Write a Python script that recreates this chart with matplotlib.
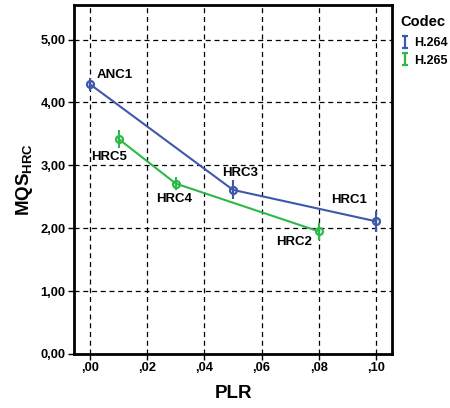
import matplotlib
matplotlib.use("Agg")
import matplotlib.pyplot as plt
from matplotlib.path import Path
from matplotlib.lines import Line2D
from matplotlib.ticker import FuncFormatter

plt.rcParams['font.family'] = ['Liberation Sans', 'DejaVu Sans']
plt.rcParams['font.weight'] = 'bold'
plt.rcParams['mathtext.fontset'] = 'custom'
plt.rcParams['mathtext.rm'] = 'Liberation Sans:bold'
plt.rcParams['mathtext.bf'] = 'Liberation Sans:bold'

# Data
h264_plr = [0.00, 0.05, 0.10]
h264_mqs = [4.29, 2.61, 2.11]
h264_err = [0.10, 0.15, 0.17]
h264_labels = ["ANC1", "HRC3", "HRC1"]

h265_plr = [0.01, 0.03, 0.08]
h265_mqs = [3.42, 2.71, 1.95]
h265_err = [0.14, 0.10, 0.13]
h265_labels = ["HRC5", "HRC4", "HRC2"]

x_ticks = [0.00, 0.02, 0.04, 0.06, 0.08, 0.10]
y_ticks = [0, 1, 2, 3, 4, 5]

blue = "#3E58AC"
green = "#2EB848"

fig = plt.figure(figsize=(4.5, 4.08), dpi=100)
ax = fig.add_axes([74/450, 1-354/408, (392-74)/450, (354-5)/408])

ax.errorbar(h264_plr, h264_mqs, yerr=h264_err, color=blue, lw=1.5,
            marker='o', ms=5, mfc='none', mec=blue, mew=1.6, elinewidth=1.5, capsize=0, zorder=3)
ax.errorbar(h265_plr, h265_mqs, yerr=h265_err, color=green, lw=1.5,
            marker='o', ms=5, mfc='none', mec=green, mew=1.6, elinewidth=1.5, capsize=0, zorder=3)

# point labels (positions of text)
label_pos = {
    "ANC1": (0.0087, 4.44),
    "HRC3": (0.0524, 2.88),
    "HRC1": (0.0907, 2.45),
    "HRC5": (0.0068, 3.13),
    "HRC4": (0.0295, 2.46),
    "HRC2": (0.0713, 1.78),
}
for lab in h264_labels + h265_labels:
    x, y = label_pos[lab]
    ax.text(x, y, lab, ha='center', va='center', fontsize=9.5, fontweight='bold', zorder=4)

ax.set_xlim(-0.0056, 0.1056)
ax.set_ylim(0, 5.55)
ax.set_xticks(x_ticks)
ax.set_yticks(y_ticks)
ax.xaxis.set_major_formatter(FuncFormatter(lambda v, p: (",%02d" % round(v*100))))
ax.yaxis.set_major_formatter(FuncFormatter(lambda v, p: ("%.2f" % v).replace('.', ',')))
for lbl in ax.get_xticklabels() + ax.get_yticklabels():
    lbl.set_fontweight('bold')
ax.tick_params(axis='both', labelsize=9.3, length=4, width=1, direction='out', color='black', pad=2)

ax.grid(True, color='black', linestyle=(0, (4, 3)), linewidth=0.9)
ax.set_axisbelow(True)
for s in ax.spines.values():
    s.set_linewidth(2)
    s.set_color('black')

ax.set_xlabel("PLR", fontsize=13.5, fontweight='bold', labelpad=8)
ax.set_ylabel(r"$\mathbf{MQS}_{\mathbf{HRC}}$", fontsize=13.5, labelpad=4)

# legend
ibeam = Path([(-0.5, -1), (0.5, -1), (0, -1), (0, 1), (-0.5, 1), (0.5, 1)],
             [Path.MOVETO, Path.LINETO, Path.MOVETO, Path.LINETO, Path.MOVETO, Path.LINETO])
handles = [Line2D([], [], linestyle='none', marker=ibeam, ms=8, mew=1.6, color=blue),
           Line2D([], [], linestyle='none', marker=ibeam, ms=8, mew=1.6, color=green)]
leg = fig.legend(handles, ["H.264", "H.265"], title="Codec", loc='upper left',
                 bbox_to_anchor=(392/450, 1-6/408), frameon=False, fontsize=9,
                 title_fontsize=10.5, handlelength=0.6, handletextpad=0.5,
                 labelspacing=0.45, borderaxespad=0.3, alignment='left')
leg.get_title().set_fontweight('bold')
leg._legend_box.sep = 6
for t in leg.get_texts():
    t.set_fontweight('bold')

fig.savefig("out.png", dpi=100)
